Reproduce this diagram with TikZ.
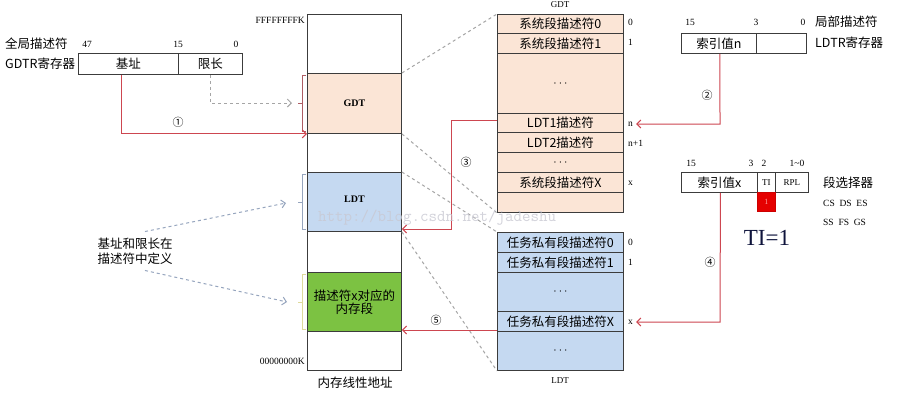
\documentclass[tikz,border=0pt]{standalone}
\usepackage{fontspec}
\setmainfont{Liberation Serif}
\newfontfamily\cjk{Noto Sans CJK SC}
\usetikzlibrary{arrows.meta}
\definecolor{gdtfill}{RGB}{251,229,214}
\definecolor{ldtfill}{RGB}{197,217,241}
\definecolor{segfill}{RGB}{124,194,66}
\definecolor{redline}{RGB}{205,70,80}
\definecolor{dashgrey}{RGB}{165,165,165}
\definecolor{bluegrey}{RGB}{150,165,190}
\definecolor{linegrey}{RGB}{60,60,60}
\definecolor{wmark}{RGB}{200,200,210}
\definecolor{tinavy}{RGB}{15,20,60}
\begin{document}
\begin{tikzpicture}[x=1pt,y=-1pt,
  cell/.style={draw=linegrey, line width=0.9pt, anchor=north west, inner sep=0pt,
    font=\cjk\fontsize{12.5}{13}\selectfont, align=center},
  memcell/.style={cell, minimum width=94pt},
  tabcell/.style={cell, minimum width=126pt},
  lbl/.style={inner sep=0pt, font=\cjk\fontsize{12.5}{15}\selectfont},
  num/.style={inner sep=0pt, font=\fontsize{9.5}{11}\selectfont},
  redarr/.style={draw=redline, line width=1pt, -{Straight Barb[length=4pt,width=8pt]}},
  greyarr/.style={draw=dashgrey, line width=1pt, dashed, -{Straight Barb[length=4pt,width=8pt]}},
  bluearr/.style={draw=bluegrey, line width=1pt, dashed, -{Straight Barb[length=4pt,width=8pt]}},
  guide/.style={draw=dashgrey, line width=1pt, dashed},
  circ/.style={inner sep=0pt, font=\cjk\fontsize{11}{12}\selectfont}
]
\useasboundingbox (0,0) rectangle (897,405);
\fill[white] (0,0) rectangle (897,405);

% memory column
\node[memcell, minimum height=59pt] (m1) at (307,14) {};
\node[memcell, minimum height=60pt, fill=gdtfill, font=\bfseries\fontsize{10}{11}\selectfont] (mgdt) at (307,73) {GDT};
\node[memcell, minimum height=39pt] (m2) at (307,133) {};
\node[memcell, minimum height=59pt, fill=ldtfill, font=\bfseries\fontsize{10}{11}\selectfont, text depth=6pt] (mldt) at (307,172) {LDT};
\node[memcell, minimum height=41pt] (m3) at (307,231) {};
\node[memcell, minimum height=59pt, fill=segfill] (mseg) at (307,272) {描述符x对应的\\内存段};
\node[memcell, minimum height=39pt] (m4) at (307,331) {};
\node[num, anchor=east] (ftop) at (305,20) {FFFFFFFFK};
\node[num, anchor=east] (fbot) at (305,361) {00000000K};
\node[lbl] (memlbl) at (355,383) {内存线性地址};

% brackets
\draw[draw=redline!60!gray, line width=0.7pt] (306,75) -- (302,75) -- (302,131) -- (306,131) (302,103) -- (298,103);
\draw[draw=bluegrey, line width=0.7pt] (306,174) -- (302,174) -- (302,229) -- (306,229) (302,202) -- (298,202);
\draw[draw=yellow!50!gray!60, line width=0.7pt] (306,274) -- (302,274) -- (302,329) -- (306,329) (302,302) -- (298,302);

% GDT table
\node[lbl, font=\fontsize{9}{10}\selectfont] (gdtlbl) at (560,5) {GDT};
\node[tabcell, minimum height=19pt, fill=gdtfill] (g0) at (497,14) {系统段描述符0};
\node[tabcell, minimum height=20pt, fill=gdtfill] (g1) at (497,33) {系统段描述符1};
\node[tabcell, minimum height=60pt, fill=gdtfill] (gd) at (497,53) {$\cdots$};
\node[tabcell, minimum height=19pt, fill=gdtfill] (gl1) at (497,113) {LDT1描述符};
\node[tabcell, minimum height=20pt, fill=gdtfill] (gl2) at (497,132) {LDT2描述符};
\node[tabcell, minimum height=20pt, fill=gdtfill] (gd2) at (497,152) {$\cdots$};
\node[tabcell, minimum height=20pt, fill=gdtfill] (gx) at (497,172) {系统段描述符X};
\node[tabcell, minimum height=20pt, fill=gdtfill] (gend) at (497,192) {};
\node[num, anchor=west] (i0) at (628,22) {0};
\node[num, anchor=west] (i1) at (628,42) {1};
\node[num, anchor=west] (in) at (628,124) {n};
\node[num, anchor=west] (in1) at (628,143) {n+1};
\node[num, anchor=west] (ix) at (628,183) {x};

% LDT table
\node[tabcell, minimum height=20pt, fill=ldtfill] (l0) at (497,232) {任务私有段描述符0};
\node[tabcell, minimum height=20pt, fill=ldtfill] (l1) at (497,252) {任务私有段描述符1};
\node[tabcell, minimum height=39pt, fill=ldtfill] (ld) at (497,272) {$\cdots$};
\node[tabcell, minimum height=20pt, fill=ldtfill] (lx) at (497,311) {任务私有段描述符X};
\node[tabcell, minimum height=39pt, fill=ldtfill] (lend) at (497,331) {$\cdots$};
\node[lbl, font=\fontsize{9}{10}\selectfont] (ldtlbl) at (560,381) {LDT};
\node[num, anchor=west] (j0) at (628,242) {0};
\node[num, anchor=west] (j1) at (628,262) {1};
\node[num, anchor=west] (jx) at (628,322) {x};

% GDTR register
\node[cell, minimum width=100pt, minimum height=21pt] (gbase) at (78,53) {基址};
\node[cell, minimum width=64pt, minimum height=21pt] (glim) at (178,53) {限长};
\node[num] (b47) at (87,44) {47};
\node[num] (b15) at (178,44) {15};
\node[num] (b0) at (236,44) {0};
\node[lbl, anchor=west] (gname1) at (5,44) {全局描述符};
\node[lbl, anchor=west] (gname2) at (5,64) {GDTR寄存器};

% LDTR register
\node[cell, minimum width=75pt, minimum height=20pt] (lidx) at (681,33) {索引值n};
\node[cell, minimum width=50pt, minimum height=20pt] (lrest) at (756,33) {};
\node[num] (c15) at (690,22) {15};
\node[num] (c3) at (756,22) {3};
\node[num] (c0) at (803,22) {0};
\node[lbl, anchor=west] (lname1) at (815,22) {局部描述符};
\node[lbl, anchor=west] (lname2) at (815,43) {LDTR寄存器};

% selector
\node[cell, minimum width=76pt, minimum height=20pt] (sidx) at (681,172) {索引值x};
\node[cell, minimum width=18pt, minimum height=20pt, font=\fontsize{9}{10}\selectfont] (sti) at (757,172) {TI};
\node[cell, minimum width=33pt, minimum height=20pt, font=\fontsize{9}{10}\selectfont] (srpl) at (775,172) {RPL};
\node[cell, draw=red!80!black, fill=red!90!black, minimum width=18pt, minimum height=19pt, text=red!40, font=\fontsize{8}{9}\selectfont] (sred) at (757,192) {1};
\node[num] (s15) at (691,163) {15};
\node[num] (s3) at (751,163) {3};
\node[num] (s2) at (764,163) {2};
\node[num] (s10) at (797,163) {1\textasciitilde0};
\node[lbl, anchor=west] (sname) at (823,183) {段选择器};
\node[num, anchor=west] (sregs1) at (823,203) {CS\ \ DS\ \ ES};
\node[num, anchor=west] (sregs2) at (823,222) {SS\ \ FS\ \ GS};
\node[inner sep=0pt, text=tinavy, font=\fontsize{23}{24}\selectfont] (tieq) at (767,238) {TI=1};

% left note
\node[lbl, align=center] (note) at (135,251) {基址和限长在\\描述符中定义};

% guide lines
\draw[guide] (mgdt.north east) -- (g0.north west);
\draw[guide] (mgdt.south east) -- (gend.south west);
\draw[guide] (mldt.north east) -- (l0.north west);
\draw[guide] (mldt.south east) -- (lend.south west);

% arrow 1
\draw[redarr] ([xshift=-7pt]gbase.south) |- (mgdt.south west);
\node[circ] (n1) at (178,122) {①};
% limit dashed arrow
\coordinate (limend) at (292,103);
\draw[greyarr] (glim.south) |- (limend);
% arrow 2
\coordinate (c2) at (720,124);
\draw[redarr] ([xshift=1pt]lidx.south) -- (c2) -- ([xshift=3pt]in.east);
\node[circ] (n2) at (707,95) {②};
% arrow 3
\coordinate (c3a) at (451,120);
\coordinate (c3b) at (451,229);
\draw[redarr] (gl1.west |- c3a) -- (c3a) -- (c3b) -- (mldt.east |- c3b);
\node[circ] (n3) at (466,162) {③};
% arrow 4
\coordinate (c4) at (720,322);
\draw[redarr] ([xshift=1pt]sidx.south) -- (c4) -- ([xshift=3pt]jx.east);
\node[circ] (n4) at (710,262) {④};
% arrow 5
\coordinate (c5) at (497,330);
\draw[redarr] (c5) -- (mseg.east |- c5);
\node[circ] (n5) at (436,320) {⑤};

% note arrows
\coordinate (na1) at (286,203);
\coordinate (na2) at (287,302);
\draw[bluearr] ([shift={(10pt,6pt)}]note.north) -- (na1);
\draw[bluearr] ([shift={(10pt,-6pt)}]note.south) -- (na2);

% watermark (on top, faint)
\node[inner sep=0pt, text=wmark, opacity=0.8, font=\fontsize{16.5}{18}\selectfont\ttfamily, anchor=west] (wm) at (318,218) {http://blog.csdn.net/jadeshu};
\end{tikzpicture}
\end{document}
